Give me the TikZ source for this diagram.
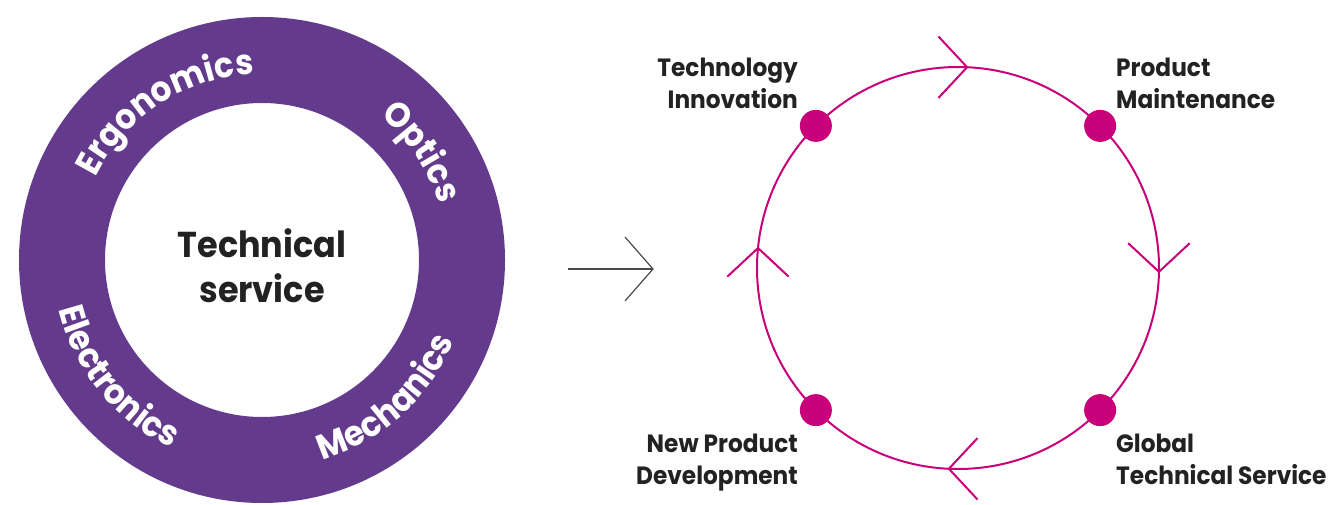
\documentclass[tikz,border=0pt]{standalone}
\usepackage{fontspec}
\setmainfont{Poppins}[FakeStretch=0.93]
\usetikzlibrary{decorations.text}
\definecolor{ringpurple}{HTML}{643A8C}
\definecolor{cyclemag}{HTML}{C8007A}
\definecolor{labelink}{HTML}{222222}
\definecolor{arrowgray}{HTML}{4A4A4A}
\begin{document}
\begin{tikzpicture}[x=1pt,y=1pt,
  magline/.style={draw=cyclemag, line width=2pt},
  chev/.style={draw=cyclemag, line width=2pt},
  dot/.style={circle, fill=cyclemag, minimum size=32pt, inner sep=0pt},
  steplabel/.style={font=\bfseries\fontsize{25}{32}\selectfont, text=labelink, inner sep=0pt},
  ringword/.style={decorate, decoration={text along path, text align=center, text color=white}},
]
\useasboundingbox (0,0) rectangle (1334,504);
% left ring
\coordinate (ringc) at (262,244);
\fill[ringpurple, even odd rule] (ringc) circle[radius=243] (ringc) circle[radius=157];
\node[font=\bfseries\fontsize{36}{45}\selectfont, text=labelink, align=center, anchor=north, inner sep=0pt] (core) at (262,275.5) {Technical\\service};
\path[ringword, decoration={text={|\bfseries\fontsize{35}{40}\selectfont|Ergonomics}}]
  ([shift={(163:186)}]ringc) arc[start angle=163, end angle=83, radius=186];
\path[ringword, decoration={text={|\bfseries\fontsize{35}{40}\selectfont|Optics}}]
  ([shift={(74:186)}]ringc) arc[start angle=74, end angle=-6, radius=186];
\path[ringword, decoration={text={|\bfseries\fontsize{35}{40}\selectfont|Mechanics}}]
  ([shift={(-88:209)}]ringc) arc[start angle=-88, end angle=-8, radius=209];
\path[ringword, decoration={text={|\bfseries\fontsize{35}{40}\selectfont|Electronics}}]
  ([shift={(179:209)}]ringc) arc[start angle=179, end angle=259, radius=209];
% arrow between
\coordinate (arrowstart) at (568,235);
\coordinate (arrowtip) at (653,235);
\draw[arrowgray, line width=1.2pt] (arrowstart) -- (arrowtip);
\draw[arrowgray, line width=1.2pt] ([shift={(228.8:42.5)}]arrowtip) -- (arrowtip) -- ([shift={(131.2:42.5)}]arrowtip);
% cycle
\coordinate (cyc) at (958,236);
\draw[magline] (cyc) circle[radius=201];
\coordinate (tipT) at ([shift={(87.4:201)}]cyc);
\coordinate (tipR) at ([shift={(-1.1:201)}]cyc);
\coordinate (tipB) at ([shift={(267.4:201)}]cyc);
\coordinate (tipL) at ([shift={(174.3:201)}]cyc);
\draw[chev] ([shift={(227:42)}]tipT) -- (tipT) -- ([shift={(133:42)}]tipT);
\draw[chev] ([shift={(137:42)}]tipR) -- (tipR) -- ([shift={(43:42)}]tipR);
\draw[chev] ([shift={(47:42)}]tipB) -- (tipB) -- ([shift={(-47:42)}]tipB);
\draw[chev] ([shift={(223:42)}]tipL) -- (tipL) -- ([shift={(317:42)}]tipL);
\node[dot] (techinno) at ([shift={(135:201)}]cyc) {};
\node[dot] (prodmaint) at ([shift={(45:201)}]cyc) {};
\node[dot] (globserv) at ([shift={(-45:201)}]cyc) {};
\node[dot] (newprod) at ([shift={(-135:201)}]cyc) {};
\node[steplabel, align=right, anchor=north east] (lblTI) at (798,446.5) {Technology\\Innovation};
\node[steplabel, align=left, anchor=north west] (lblPM) at (1116,446.5) {Product\\Maintenance};
\node[steplabel, align=right, anchor=north east] (lblNPD) at (798,70.5) {New Product\\Development};
\node[steplabel, align=left, anchor=north west] (lblGTS) at (1116,70.5) {Global\\Technical Service};
\end{tikzpicture}
\end{document}
